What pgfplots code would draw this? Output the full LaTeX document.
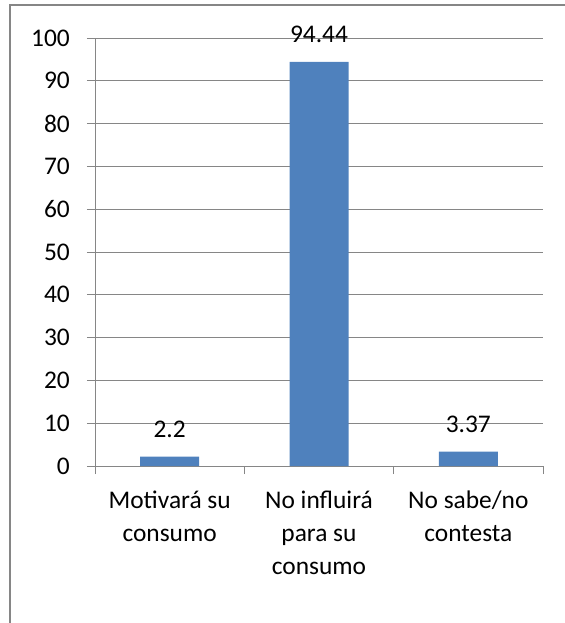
\documentclass[border=0pt]{standalone}
\usepackage{pgfplots}
\pgfplotsset{compat=1.18}
\usepackage{fontspec}
\setmainfont{Carlito}
\definecolor{barblue}{HTML}{4F81BD}
\definecolor{gridgray}{HTML}{868686}
\begin{document}
\begin{tikzpicture}[font=\fontsize{25.5}{33}\selectfont]
\useasboundingbox (0,0) rectangle (565bp,-623bp);
% chart frame
\draw[gridgray, line width=1.3bp] (10bp,-623bp) -- (10bp,-5bp) -- (565bp,-5bp);
\begin{axis}[
    at={(95bp,-466bp)}, anchor=south west,
    scale only axis,
    width=448bp, height=428bp,
    xmin=-0.5, xmax=2.5,
    ymin=0, ymax=100,
    ytick={0,10,...,100},
    xtick={0,1,2},
    xticklabels={Motivará su\\consumo, No influirá\\para su\\consumo, No sabe/no\\contesta},
    minor xtick={-0.5,0.5,1.5,2.5},
    axis x line*=bottom, axis y line*=left,
    axis line style={gridgray, line width=0.9bp},
    ymajorgrids,
    grid style={gridgray, line width=0.9bp},
    tick align=outside,
    major tick length=8bp, minor tick length=8bp,
    tick style={gridgray, line width=0.9bp},
    major x tick style={draw=none},
    /pgf/number format/assume math mode=true,
    yticklabel style={anchor=east, inner sep=0pt, xshift=-17bp},
    xticklabel style={align=center, anchor=north, inner sep=0pt, yshift=-17bp},
    ybar, bar width=59bp,
    nodes near coords,
    nodes near coords style={anchor=base, yshift=19bp, text=black},
]
\addplot[fill=barblue, draw=none] coordinates {(0,2.2) (1,94.44) (2,3.37)};
\end{axis}
\end{tikzpicture}
\end{document}
